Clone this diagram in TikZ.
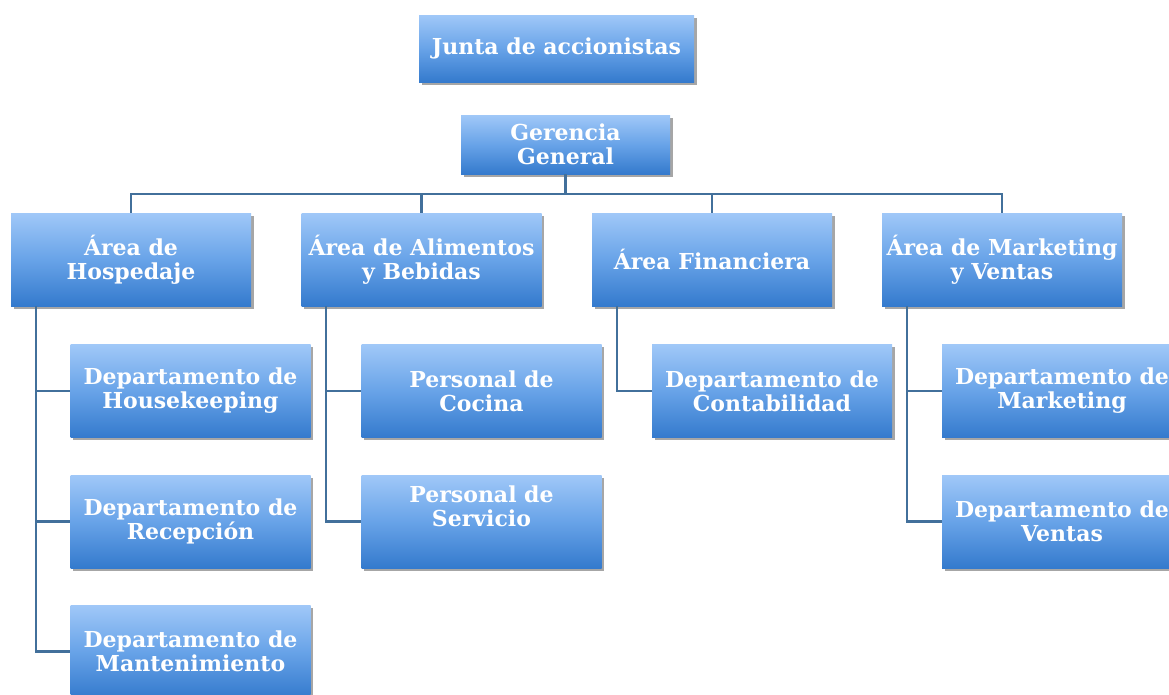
\documentclass[tikz,border=0pt]{standalone}
\usepackage{fontspec}
\setmainfont{DejaVu Serif}
\usetikzlibrary{shadows}
\definecolor{boxtop}{RGB}{160,200,248}
\definecolor{boxmid}{RGB}{104,163,232}
\definecolor{boxbot}{RGB}{52,122,205}
\definecolor{linec}{RGB}{66,112,155}
\tikzset{
  boxfont/.style={font=\bfseries\fontsize{22}{24}\selectfont, text=white, align=center},
  orgbox/.style={rectangle, inner sep=0pt, boxfont,
    top color=boxtop, bottom color=boxbot, middle color=boxmid,
    drop shadow={shadow xshift=2.5pt, shadow yshift=-2.5pt, opacity=0.35, fill=black}},
  big/.style={orgbox, minimum width=240pt, minimum height=93pt},
  conn/.style={draw=linec, line width=2.2pt}
}
\begin{document}
\begin{tikzpicture}[x=1pt,y=1pt]
\useasboundingbox (0,0) rectangle (1169,-694);
\clip (0,0) rectangle (1169,-694);
% top
\node[orgbox, minimum width=275pt, minimum height=67pt] (junta) at (556.5,-48.5) {Junta de accionistas};
\node[orgbox, minimum width=209pt, minimum height=59pt] (ger) at (565.5,-144.5) {Gerencia\\General};
% areas
\node[big] (hosp) at (131,-259.5) {Área de\\Hospedaje};
\node[big] (alim) at (421.5,-259.5) {Área de Alimentos\\y Bebidas};
\node[big] (fin) at (712,-259.5) {Área Financiera};
\node[big] (mkt) at (1002,-259.5) {Área de Marketing\\y Ventas};
% children
\node[big] (hk) at (190.5,-391) {Departamento de\\Housekeeping};
\node[big] (rec) at (190.5,-521.5) {Departamento de\\Recepción};
\node[big] (man) at (190.5,-651.5) {Departamento de\\Mantenimiento};
\node[big] (coc) at (481.5,-391) {Personal de\\Cocina};
\node[big] (serv) at (481.5,-521.5) {};
\node[boxfont] (servt) at ([yshift=15pt]serv.center) {Personal de\\Servicio};
\node[big] (cont) at (772,-391) {Departamento de\\Contabilidad};
\node[big] (mk) at (1062,-391) {Departamento de\\Marketing};
\node[big] (ven) at (1062,-521.5) {Departamento de\\Ventas};
% connectors
\path (ger.south) ++(0,-20) coordinate (bus);
\draw[conn] (ger.south) -- (bus);
\draw[conn] (hosp.north) |- (bus);
\draw[conn] (alim.north) |- (bus);
\draw[conn] (fin.north) |- (bus);
\draw[conn] (mkt.north) |- (bus);
\foreach \p/\c in {hosp/hk, hosp/rec, hosp/man, alim/coc, alim/serv, fin/cont, mkt/mk, mkt/ven}
  \draw[conn] ([xshift=25pt]\p.south west) |- (\c.west);
\end{tikzpicture}
\end{document}
